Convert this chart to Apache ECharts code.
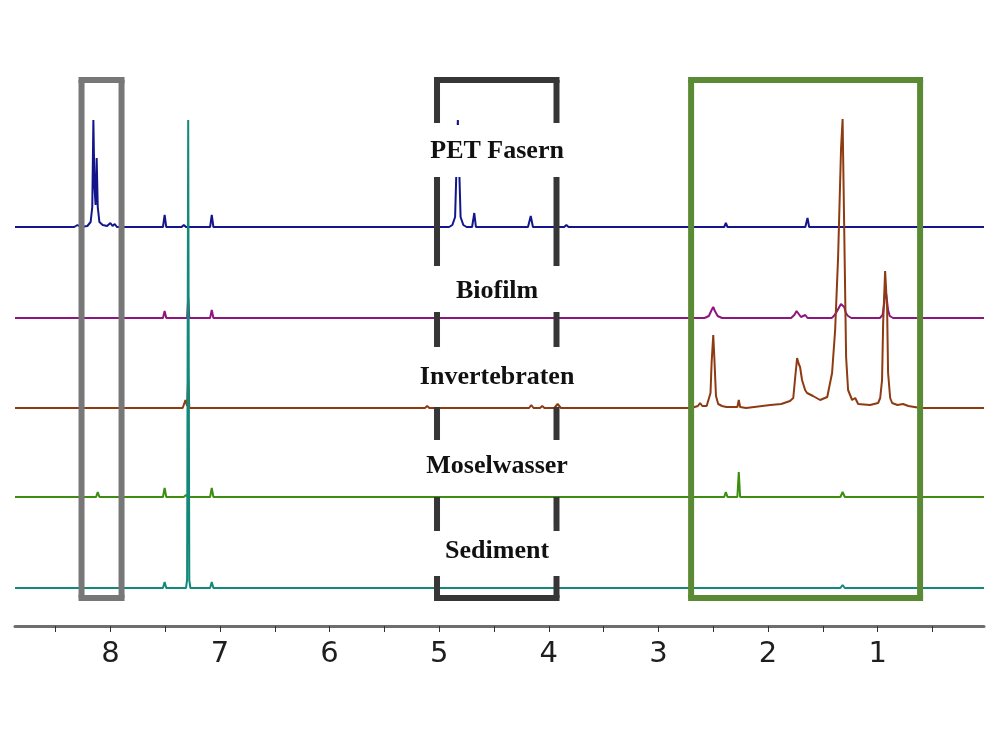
<!DOCTYPE html>
<html>
<head>
<meta charset="utf-8">
<script src="https://cdn.jsdelivr.net/npm/echarts@6/dist/echarts.min.js"></script>
<style>
  html, body { margin: 0; padding: 0; background: #fff; }
  #nmrChart { width: 1000px; height: 750px; }
</style>
</head>
<body>
<div id="nmrChart"></div>
<script>
// spectrum names (top to bottom) and the ppm/intensity points
var names = ['PET Fasern', 'Biofilm', 'Invertebraten', 'Moselwasser', 'Sediment']

var petFasern = [
  [8.87, 0], [8.33, 0], [8.30, 2], [8.27, 0], [8.21, 1], [8.18, 5], [8.165, 20], [8.155, 107],
  [8.145, 40], [8.135, 22], [8.125, 69], [8.115, 20], [8.10, 5], [8.07, 2], [8.03, 1], [8.00, 4],
  [7.98, 1], [7.96, 3], [7.94, 0], [7.52, 0], [7.505, 12], [7.49, 0], [7.35, 0], [7.33, 2],
  [7.31, 0], [7.09, 0], [7.075, 12], [7.06, 0], [4.91, 0], [4.88, 2], [4.855, 10], [4.83, 107],
  [4.805, 10], [4.78, 2], [4.75, 0], [4.70, 0], [4.68, 14], [4.665, 0], [4.19, 0], [4.165, 11],
  [4.145, 0], [3.86, 0], [3.84, 2], [3.82, 0], [2.40, 0], [2.385, 4], [2.37, 0], [1.66, 0],
  [1.64, 9], [1.625, 0], [0.03, 0]
]
var biofilm = [
  [8.87, 0], [7.52, 0], [7.505, 7], [7.49, 0], [7.30, 0], [7.29, 20], [7.28, 0], [7.09, 0],
  [7.075, 8], [7.06, 0], [2.58, 0], [2.54, 2], [2.515, 8], [2.50, 11], [2.485, 7], [2.46, 2],
  [2.42, 0], [1.79, 0], [1.76, 3], [1.74, 7], [1.72, 4], [1.70, 1], [1.66, 3], [1.64, 0],
  [1.42, 0], [1.40, 2], [1.375, 6], [1.355, 10], [1.335, 14], [1.32, 16], [1.305, 11], [1.29, 5],
  [1.27, 2], [1.24, 0], [0.98, 0], [0.955, 3], [0.94, 15], [0.932, 29], [0.92, 22], [0.905, 8],
  [0.89, 2], [0.86, 0], [0.03, 0]
]
var invertebraten = [
  [8.87, 0], [7.34, 0], [7.315, 8], [7.30, 2], [7.29, 30], [7.28, 0], [7.09, 0],
  [7.075, 2], [7.06, 0], [5.13, 0], [5.11, 2], [5.09, 0], [4.18, 0], [4.16, 3], [4.14, 0],
  [4.08, 0], [4.06, 2], [4.04, 0], [3.95, 0], [3.92, 4], [3.89, 0], [2.70, 0], [2.64, 2],
  [2.62, 5], [2.60, 2], [2.56, 2], [2.545, 4], [2.525, 15], [2.515, 45], [2.50, 73], [2.49, 50],
  [2.475, 12], [2.455, 4], [2.42, 2], [2.38, 1], [2.28, 1], [2.267, 8], [2.255, 1], [2.20, 0],
  [1.98, 3], [1.88, 4], [1.80, 7], [1.77, 10], [1.753, 30], [1.735, 50], [1.72, 44], [1.708, 41],
  [1.69, 28], [1.662, 18], [1.644, 15], [1.59, 12], [1.525, 8], [1.46, 11], [1.416, 35],
  [1.388, 78], [1.361, 151], [1.334, 260], [1.32, 289], [1.306, 185], [1.288, 51], [1.27, 18],
  [1.233, 8], [1.205, 10], [1.178, 4], [1.07, 3], [0.996, 5], [0.977, 10], [0.96, 28], [0.95, 85],
  [0.932, 137], [0.914, 100], [0.905, 35], [0.886, 10], [0.868, 5], [0.82, 3], [0.768, 4],
  [0.72, 2], [0.61, 0], [0.03, 0]
]
var moselwasser = [
  [8.87, 0], [8.13, 0], [8.115, 5], [8.10, 0], [7.52, 0], [7.505, 9], [7.49, 0], [7.33, 0],
  [7.31, 2], [7.29, 0], [7.09, 0], [7.075, 9], [7.06, 0], [2.40, 0], [2.385, 5], [2.37, 0],
  [2.28, 0], [2.267, 25], [2.255, 0], [1.66, 0], [1.645, 2], [1.63, 0], [1.34, 0], [1.32, 5],
  [1.30, 0], [0.03, 0]
]
var sediment = [
  [8.87, 0], [7.52, 0], [7.505, 6], [7.49, 0], [7.31, 0], [7.30, 8], [7.29, 468], [7.28, 8],
  [7.27, 0], [7.09, 0], [7.075, 6], [7.06, 0], [1.34, 0], [1.32, 3], [1.30, 0], [0.03, 0]
]
var spectra = [petFasern, biofilm, invertebraten, moselwasser, sediment]

// vertical offset of each trace in the stack
var offsets = [399, 308, 218, 129, 38]
var colors = ['#12168a', '#8d177e', '#8e3b12', '#3d8d10', '#13897a']

// tick labels of the ppm axis
var tickLabels = [1, 2, 3, 4, 5, 6, 7, 8]
var minorTicks = [0.5, 1, 1.5, 2, 2.5, 3, 3.5, 4, 4.5, 5, 5.5, 6, 6.5, 7, 7.5, 8, 8.5]

// highlighted regions: [ppm left, ppm right]
var boxRanges = [[8.263, 7.898], [5.02, 3.93], [2.702, 0.613]]
var boxStyles = [
  { color: '#777777', width: 6, dash: null },
  { color: '#363636', width: 6, dash: [43, 53, 90, 46, 35, 60, 36, 54, 34, 45, 40] },
  { color: '#5b8a35', width: 6, dash: null }
]
var boxTop = 546
var boxBottom = 28

// label anchor (ppm) and heights
var labelPpm = 4.472
var labelY = [475, 335, 249, 160, 75]

var myChart = echarts.init(document.getElementById('nmrChart'))

var series = []
for (var i = 0; i < spectra.length; i++) {
  series.push({
    name: names[i],
    type: 'line',
    symbol: 'none',
    z: 2 + i,
    lineStyle: { color: colors[i], width: 2 },
    data: spectra[i].map(function (p) { return [p[0], p[1] + offsets[this]] }, i)
  })
}

// boxes
series.push({
  type: 'custom',
  z: 20,
  silent: true,
  data: boxRanges.map(function (r) { return [r[0], r[1], boxTop, boxBottom] }),
  renderItem: function (params, api) {
    var p0 = api.coord([api.value(0), api.value(2)])
    var p1 = api.coord([api.value(1), api.value(3)])
    var s = boxStyles[params.dataIndex]
    var half = s.width / 2
    var solid = { stroke: s.color, lineWidth: s.width, fill: null }
    var side = { stroke: s.color, lineWidth: s.width, fill: null, lineDash: s.dash }
    return {
      type: 'group',
      children: [
        { type: 'line', shape: { x1: p0[0] - half, y1: p0[1], x2: p1[0] + half, y2: p0[1] }, style: solid },
        { type: 'line', shape: { x1: p0[0] - half, y1: p1[1], x2: p1[0] + half, y2: p1[1] }, style: solid },
        { type: 'line', shape: { x1: p0[0], y1: p0[1], x2: p0[0], y2: p1[1] }, style: side },
        { type: 'line', shape: { x1: p1[0], y1: p0[1], x2: p1[0], y2: p1[1] }, style: side }
      ]
    }
  }
})

// sample names
series.push({
  type: 'custom',
  z: 30,
  silent: true,
  data: labelY.map(function (y, k) { return [labelPpm, y, k] }),
  renderItem: function (params, api) {
    var p = api.coord([api.value(0), api.value(1)])
    return {
      type: 'text',
      x: p[0],
      y: p[1],
      style: {
        text: names[params.dataIndex],
        font: 'bold 26px "Liberation Serif"',
        fill: '#111',
        align: 'center',
        verticalAlign: 'middle',
        backgroundColor: '#fff',
        padding: [16, 4, 10, 4]
      }
    }
  }
})

myChart.setOption({
  animation: false,
  grid: {
    left: 15,
    right: 16,
    top: 60,
    bottom: 124
  },
  xAxis: {
    type: 'value',
    inverse: true,
    min: 0.03,
    max: 8.87,
    splitLine: { show: false },
    axisLine: { lineStyle: { color: '#6e6e6e', width: 3 } },
    axisTick: {
      customValues: minorTicks,
      length: 6,
      lineStyle: { color: '#333', width: 1 }
    },
    axisLabel: {
      customValues: tickLabels,
      margin: 14,
      color: '#1e1e1e',
      fontFamily: 'DejaVu Sans',
      fontSize: 29
    }
  },
  yAxis: {
    type: 'value',
    min: 0,
    max: 566,
    show: false
  },
  series: series
})
</script>
</body>
</html>
